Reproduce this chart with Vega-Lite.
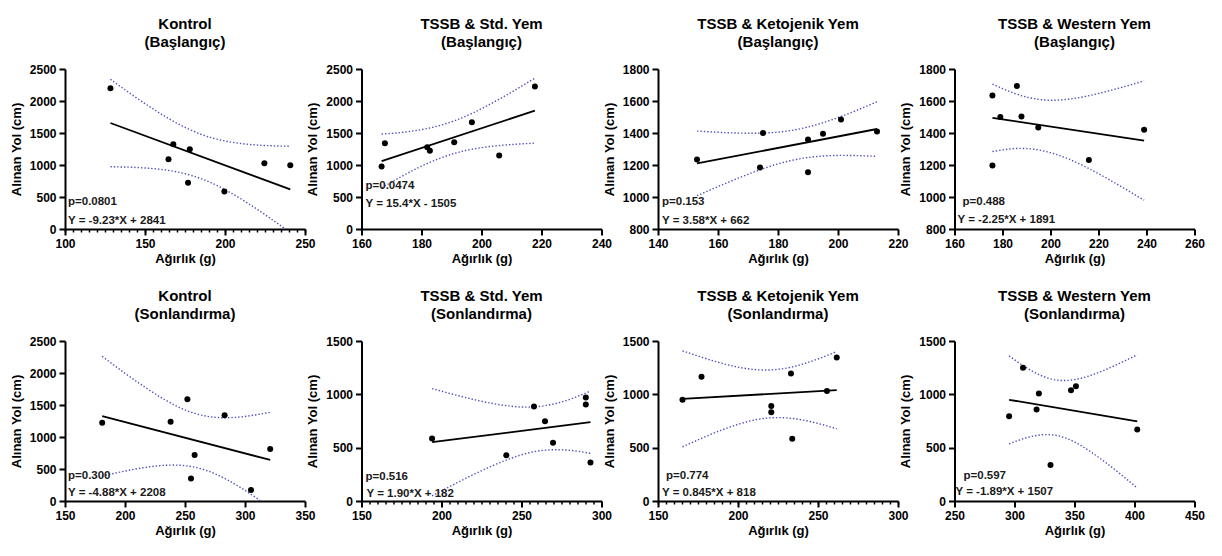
{
"$schema": "https://vega.github.io/schema/vega-lite/v6.json",
"background": "white",
"padding": {"left": 10, "top": 16, "right": 5, "bottom": 5},
"columns": 4,
"bounds": "flush",
"spacing": {"row": 112, "column": 56.5},
"config": {
 "view": {"stroke": null},
 "font": "Liberation Sans",
 "numberFormat": "d",
 "axis": {"domainColor": "#000", "domainWidth": 2, "tickColor": "#000", "tickWidth": 2, "tickSize": 6, "labelFont": "Liberation Sans", "labelFontSize": 12, "labelFontWeight": "bold", "labelColor": "#000", "labelPadding": 3, "labelFlush": false, "labelOverlap": false, "titleFont": "Liberation Sans", "titleFontSize": 13, "titleFontWeight": "bold", "titleColor": "#000", "grid": false},
 "axisX": {"titlePadding": 3},
 "axisY": {"titlePadding": 6},
 "title": {"font": "Liberation Sans", "fontSize": 15, "fontWeight": "bold", "color": "#000", "lineHeight": 18.5, "offset": 13, "anchor": "middle"},
 "text": {"align": "left", "baseline": "middle", "fontSize": 11.5, "fontWeight": "bold", "color": "#1a1a1a"}
},
"datasets": {
 "pts": [
  {"g":1,"x":128.4,"y":2199},{"g":1,"x":164.7,"y":1091},{"g":1,"x":167.7,"y":1325},{"g":1,"x":178,"y":1247},{"g":1,"x":176.9,"y":722},{"g":1,"x":199.6,"y":587},{"g":1,"x":224.6,"y":1029},{"g":1,"x":240.8,"y":998},
  {"g":2,"x":166.7,"y":977},{"g":2,"x":167.8,"y":1340},{"g":2,"x":181.9,"y":1279},{"g":2,"x":182.8,"y":1221},{"g":2,"x":190.9,"y":1357},{"g":2,"x":196.8,"y":1668},{"g":2,"x":205.9,"y":1149},{"g":2,"x":217.8,"y":2225},
  {"g":3,"x":153,"y":1235},{"g":3,"x":174,"y":1185},{"g":3,"x":175,"y":1400},{"g":3,"x":190,"y":1360},{"g":3,"x":190,"y":1155},{"g":3,"x":195,"y":1395},{"g":3,"x":201,"y":1485},{"g":3,"x":213,"y":1410},
  {"g":4,"x":175.8,"y":1634},{"g":4,"x":175.8,"y":1197},{"g":4,"x":179.1,"y":1500},{"g":4,"x":186,"y":1694},{"g":4,"x":187.9,"y":1503},{"g":4,"x":194.9,"y":1434},{"g":4,"x":216,"y":1232},{"g":4,"x":239,"y":1420},
  {"g":5,"x":181,"y":1221},{"g":5,"x":238,"y":1237},{"g":5,"x":252,"y":1590},{"g":5,"x":258,"y":717},{"g":5,"x":255,"y":353},{"g":5,"x":283,"y":1341},{"g":5,"x":305,"y":172},{"g":5,"x":321,"y":811},
  {"g":6,"x":194.1,"y":586},{"g":6,"x":240.5,"y":430},{"g":6,"x":257.8,"y":885},{"g":6,"x":264.7,"y":748},{"g":6,"x":269.7,"y":545},{"g":6,"x":290.2,"y":970},{"g":6,"x":290.2,"y":904},{"g":6,"x":293.1,"y":362},
  {"g":7,"x":165.3,"y":950},{"g":7,"x":177.2,"y":1165},{"g":7,"x":220.8,"y":891},{"g":7,"x":220.8,"y":832},{"g":7,"x":233.1,"y":1196},{"g":7,"x":233.9,"y":584},{"g":7,"x":255.6,"y":1031},{"g":7,"x":261.7,"y":1345},
  {"g":8,"x":295.5,"y":795},{"g":8,"x":307.1,"y":1250},{"g":8,"x":318.4,"y":857},{"g":8,"x":320.3,"y":1007},{"g":8,"x":330,"y":337},{"g":8,"x":347.1,"y":1038},{"g":8,"x":351.2,"y":1076},{"g":8,"x":402.3,"y":670}
 ],
 "fit": [
  {"g":1,"x":128.4,"y":1656},{"g":1,"x":240.8,"y":618},
  {"g":2,"x":166.7,"y":1062},{"g":2,"x":217.8,"y":1849},
  {"g":3,"x":153,"y":1210},{"g":3,"x":213,"y":1425},
  {"g":4,"x":175.8,"y":1495},{"g":4,"x":239,"y":1353},
  {"g":5,"x":181,"y":1325},{"g":5,"x":321,"y":642},
  {"g":6,"x":194.1,"y":551},{"g":6,"x":293.1,"y":739},
  {"g":7,"x":165.3,"y":958},{"g":7,"x":261.7,"y":1039},
  {"g":8,"x":295.5,"y":949},{"g":8,"x":402.3,"y":747}
 ],
 "band": [
  {"g":1,"k":"hi","x":128.4,"y":2339},{"g":1,"k":"hi","x":142,"y":2096},{"g":1,"k":"hi","x":156,"y":1861},{"g":1,"k":"hi","x":170,"y":1652},{"g":1,"k":"hi","x":185,"y":1480},{"g":1,"k":"hi","x":199,"y":1380},{"g":1,"k":"hi","x":213,"y":1327},{"g":1,"k":"hi","x":227,"y":1302},{"g":1,"k":"hi","x":240.8,"y":1292},
  {"g":1,"k":"lo","x":128.4,"y":973},{"g":1,"k":"lo","x":142,"y":964},{"g":1,"k":"lo","x":156,"y":941},{"g":1,"k":"lo","x":170,"y":892},{"g":1,"k":"lo","x":185,"y":787},{"g":1,"k":"lo","x":199,"y":628},{"g":1,"k":"lo","x":213,"y":423},{"g":1,"k":"lo","x":227,"y":190},{"g":1,"k":"lo","x":240.8,"y":-56},
  {"g":2,"k":"hi","x":166.7,"y":1482},{"g":2,"k":"hi","x":173,"y":1507},{"g":2,"k":"hi","x":179,"y":1545},{"g":2,"k":"hi","x":185,"y":1603},{"g":2,"k":"hi","x":191,"y":1691},{"g":2,"k":"hi","x":197,"y":1810},{"g":2,"k":"hi","x":204,"y":1979},{"g":2,"k":"hi","x":211,"y":2165},{"g":2,"k":"hi","x":217.8,"y":2356},
  {"g":2,"k":"lo","x":166.7,"y":642},{"g":2,"k":"lo","x":173,"y":811},{"g":2,"k":"lo","x":179,"y":959},{"g":2,"k":"lo","x":185,"y":1085},{"g":2,"k":"lo","x":191,"y":1181},{"g":2,"k":"lo","x":197,"y":1248},{"g":2,"k":"lo","x":204,"y":1295},{"g":2,"k":"lo","x":211,"y":1323},{"g":2,"k":"lo","x":217.8,"y":1342},
  {"g":3,"k":"hi","x":153,"y":1412},{"g":3,"k":"hi","x":160.5,"y":1404},{"g":3,"k":"hi","x":168,"y":1399},{"g":3,"k":"hi","x":175.5,"y":1400},{"g":3,"k":"hi","x":183,"y":1412},{"g":3,"k":"hi","x":190.5,"y":1440},{"g":3,"k":"hi","x":198,"y":1483},{"g":3,"k":"hi","x":205.5,"y":1536},{"g":3,"k":"hi","x":213,"y":1595},
  {"g":3,"k":"lo","x":153,"y":1008},{"g":3,"k":"lo","x":160.5,"y":1069},{"g":3,"k":"lo","x":168,"y":1127},{"g":3,"k":"lo","x":175.5,"y":1180},{"g":3,"k":"lo","x":183,"y":1222},{"g":3,"k":"lo","x":190.5,"y":1248},{"g":3,"k":"lo","x":198,"y":1259},{"g":3,"k":"lo","x":205.5,"y":1259},{"g":3,"k":"lo","x":213,"y":1254},
  {"g":4,"k":"hi","x":175.8,"y":1706},{"g":4,"k":"hi","x":183.7,"y":1655},{"g":4,"k":"hi","x":191.6,"y":1619},{"g":4,"k":"hi","x":199.5,"y":1605},{"g":4,"k":"hi","x":207.4,"y":1611},{"g":4,"k":"hi","x":215.3,"y":1631},{"g":4,"k":"hi","x":223.2,"y":1659},{"g":4,"k":"hi","x":231.1,"y":1691},{"g":4,"k":"hi","x":239,"y":1726},
  {"g":4,"k":"lo","x":175.8,"y":1284},{"g":4,"k":"lo","x":183.7,"y":1301},{"g":4,"k":"lo","x":191.6,"y":1301},{"g":4,"k":"lo","x":199.5,"y":1279},{"g":4,"k":"lo","x":207.4,"y":1238},{"g":4,"k":"lo","x":215.3,"y":1183},{"g":4,"k":"lo","x":223.2,"y":1119},{"g":4,"k":"lo","x":231.1,"y":1051},{"g":4,"k":"lo","x":239,"y":980},
  {"g":5,"k":"hi","x":181,"y":2260},{"g":5,"k":"hi","x":198.5,"y":2016},{"g":5,"k":"hi","x":216,"y":1786},{"g":5,"k":"hi","x":233.5,"y":1579},{"g":5,"k":"hi","x":251,"y":1416},{"g":5,"k":"hi","x":268.5,"y":1323},{"g":5,"k":"hi","x":286,"y":1301},{"g":5,"k":"hi","x":303.5,"y":1330},{"g":5,"k":"hi","x":321,"y":1386},
  {"g":5,"k":"lo","x":181,"y":390},{"g":5,"k":"lo","x":198.5,"y":462},{"g":5,"k":"lo","x":216,"y":522},{"g":5,"k":"lo","x":233.5,"y":558},{"g":5,"k":"lo","x":251,"y":550},{"g":5,"k":"lo","x":268.5,"y":473},{"g":5,"k":"lo","x":286,"y":323},{"g":5,"k":"lo","x":303.5,"y":124},{"g":5,"k":"lo","x":321,"y":-103},
  {"g":6,"k":"hi","x":194.1,"y":1054},{"g":6,"k":"hi","x":206.5,"y":1003},{"g":6,"k":"hi","x":218.9,"y":956},{"g":6,"k":"hi","x":231.3,"y":916},{"g":6,"k":"hi","x":243.7,"y":888},{"g":6,"k":"hi","x":256.1,"y":881},{"g":6,"k":"hi","x":268.5,"y":904},{"g":6,"k":"hi","x":280.9,"y":957},{"g":6,"k":"hi","x":293.1,"y":1031},
  {"g":6,"k":"lo","x":194.1,"y":48},{"g":6,"k":"lo","x":206.5,"y":146},{"g":6,"k":"lo","x":218.9,"y":240},{"g":6,"k":"lo","x":231.3,"y":327},{"g":6,"k":"lo","x":243.7,"y":402},{"g":6,"k":"lo","x":256.1,"y":457},{"g":6,"k":"lo","x":268.5,"y":480},{"g":6,"k":"lo","x":280.9,"y":474},{"g":6,"k":"lo","x":293.1,"y":447},
  {"g":7,"k":"hi","x":165.3,"y":1408},{"g":7,"k":"hi","x":177.35,"y":1348},{"g":7,"k":"hi","x":189.4,"y":1293},{"g":7,"k":"hi","x":201.45,"y":1251},{"g":7,"k":"hi","x":213.5,"y":1229},{"g":7,"k":"hi","x":225.55,"y":1235},{"g":7,"k":"hi","x":237.6,"y":1271},{"g":7,"k":"hi","x":249.65,"y":1330},{"g":7,"k":"hi","x":261.7,"y":1401},
  {"g":7,"k":"lo","x":165.3,"y":508},{"g":7,"k":"lo","x":177.35,"y":588},{"g":7,"k":"lo","x":189.4,"y":663},{"g":7,"k":"lo","x":201.45,"y":725},{"g":7,"k":"lo","x":213.5,"y":768},{"g":7,"k":"lo","x":225.55,"y":782},{"g":7,"k":"lo","x":237.6,"y":766},{"g":7,"k":"lo","x":249.65,"y":728},{"g":7,"k":"lo","x":261.7,"y":677},
  {"g":8,"k":"hi","x":295.5,"y":1361},{"g":8,"k":"hi","x":308.85,"y":1257},{"g":8,"k":"hi","x":322.2,"y":1176},{"g":8,"k":"hi","x":335.55,"y":1133},{"g":8,"k":"hi","x":348.9,"y":1136},{"g":8,"k":"hi","x":362.25,"y":1173},{"g":8,"k":"hi","x":375.6,"y":1230},{"g":8,"k":"hi","x":388.95,"y":1298},{"g":8,"k":"hi","x":402.3,"y":1372},
  {"g":8,"k":"lo","x":295.5,"y":536},{"g":8,"k":"lo","x":308.85,"y":589},{"g":8,"k":"lo","x":322.2,"y":620},{"g":8,"k":"lo","x":335.55,"y":613},{"g":8,"k":"lo","x":348.9,"y":560},{"g":8,"k":"lo","x":362.25,"y":471},{"g":8,"k":"lo","x":375.6,"y":364},{"g":8,"k":"lo","x":388.95,"y":246},{"g":8,"k":"lo","x":402.3,"y":122}
 ],
 "ann": [
  {"g":1,"p":"p=0.0801","eq":"Y = -9.23*X + 2841"},
  {"g":2,"p":"p=0.0474","eq":"Y = 15.4*X - 1505"},
  {"g":3,"p":"p=0.153","eq":"Y = 3.58*X + 662"},
  {"g":4,"p":"p=0.488","eq":"Y = -2.25*X + 1891"},
  {"g":5,"p":"p=0.300","eq":"Y = -4.88*X + 2208"},
  {"g":6,"p":"p=0.516","eq":"Y = 1.90*X + 182"},
  {"g":7,"p":"p=0.774","eq":"Y = 0.845*X + 818"},
  {"g":8,"p":"p=0.597","eq":"Y = -1.89*X + 1507"}
 ]
},
"concat": [
 {
  "width": 240, "height": 160,
  "title": {"text": ["Kontrol", "(Başlangıç)"]},
  "resolve": {"axis": {"x": "independent"}},
  "encoding": {
   "x": {"field": "x", "type": "quantitative", "scale": {"domain": [100, 250], "nice": false, "zero": false}, "axis": null},
   "y": {"field": "y", "type": "quantitative", "scale": {"domain": [0, 2500], "nice": false, "zero": false}, "axis": {"values": [0, 500, 1000, 1500, 2000, 2500], "title": "Alınan Yol (cm)"}}
  },
  "layer": [
   {"data": {"name": "band"}, "transform": [{"filter": "datum.g == 1"}], "mark": {"type": "line", "clip": true, "interpolate": "natural", "color": "#5050c0", "strokeWidth": 1.4, "strokeDash": [1.4, 2]},
    "encoding": {"detail": {"field": "k"}, "x": {"field": "x", "type": "quantitative", "scale": {"domain": [100, 250], "nice": false, "zero": false}, "axis": {"orient": "bottom", "values": [100,105,110,115,120,125,130,135,140,145,150,155,160,165,170,175,180,185,190,195,200,205,210,215,220,225,230,235,240,245,250], "tickSize": 3, "tickWidth": 1.5, "labels": false, "domain": false, "title": null}}}},
   {"data": {"name": "fit"}, "transform": [{"filter": "datum.g == 1"}], "mark": {"type": "line", "color": "#000", "strokeWidth": 1.8},
    "encoding": {"x": {"field": "x", "type": "quantitative", "scale": {"domain": [100, 250], "nice": false, "zero": false}, "axis": {"orient": "bottom", "values": [100, 150, 200, 250], "title": "Ağırlık (g)"}}}},
   {"data": {"name": "pts"}, "transform": [{"filter": "datum.g == 1"}], "mark": {"type": "circle", "size": 36, "color": "#000", "opacity": 1}},
   {"data": {"name": "ann"}, "transform": [{"filter": "datum.g == 1"}], "mark": {"type": "text", "dx": 3, "dy": -27},
    "encoding": {"x": {"value": 0}, "y": {"value": "height"}, "text": {"field": "p"}}},
   {"data": {"name": "ann"}, "transform": [{"filter": "datum.g == 1"}], "mark": {"type": "text", "dx": 3, "dy": -8},
    "encoding": {"x": {"value": 0}, "y": {"value": "height"}, "text": {"field": "eq"}}}
  ]
 },
 {
  "width": 240, "height": 160,
  "title": {"text": ["TSSB & Std. Yem", "(Başlangıç)"]},
  "encoding": {
   "x": {"field": "x", "type": "quantitative", "scale": {"domain": [160, 240], "nice": false, "zero": false}, "axis": {"values": [160, 180, 200, 220, 240], "title": "Ağırlık (g)"}},
   "y": {"field": "y", "type": "quantitative", "scale": {"domain": [0, 2500], "nice": false, "zero": false}, "axis": {"values": [0, 500, 1000, 1500, 2000, 2500], "title": "Alınan Yol (cm)"}}
  },
  "layer": [
   {"data": {"name": "band"}, "transform": [{"filter": "datum.g == 2"}], "mark": {"type": "line", "clip": true, "interpolate": "natural", "color": "#5050c0", "strokeWidth": 1.4, "strokeDash": [1.4, 2]}, "encoding": {"detail": {"field": "k"}}},
   {"data": {"name": "fit"}, "transform": [{"filter": "datum.g == 2"}], "mark": {"type": "line", "color": "#000", "strokeWidth": 1.8}},
   {"data": {"name": "pts"}, "transform": [{"filter": "datum.g == 2"}], "mark": {"type": "circle", "size": 36, "color": "#000", "opacity": 1}},
   {"data": {"name": "ann"}, "transform": [{"filter": "datum.g == 2"}], "mark": {"type": "text", "dx": 4, "dy": -43},
    "encoding": {"x": {"value": 0}, "y": {"value": "height"}, "text": {"field": "p"}}},
   {"data": {"name": "ann"}, "transform": [{"filter": "datum.g == 2"}], "mark": {"type": "text", "dx": 4, "dy": -25},
    "encoding": {"x": {"value": 0}, "y": {"value": "height"}, "text": {"field": "eq"}}}
  ]
 },
 {
  "width": 240, "height": 160,
  "title": {"text": ["TSSB & Ketojenik Yem", "(Başlangıç)"]},
  "encoding": {
   "x": {"field": "x", "type": "quantitative", "scale": {"domain": [140, 220], "nice": false, "zero": false}, "axis": {"values": [140, 160, 180, 200, 220], "title": "Ağırlık (g)"}},
   "y": {"field": "y", "type": "quantitative", "scale": {"domain": [800, 1800], "nice": false, "zero": false}, "axis": {"values": [800, 1000, 1200, 1400, 1600, 1800], "title": "Alınan Yol (cm)"}}
  },
  "layer": [
   {"data": {"name": "band"}, "transform": [{"filter": "datum.g == 3"}], "mark": {"type": "line", "clip": true, "interpolate": "natural", "color": "#5050c0", "strokeWidth": 1.4, "strokeDash": [1.4, 2]}, "encoding": {"detail": {"field": "k"}}},
   {"data": {"name": "fit"}, "transform": [{"filter": "datum.g == 3"}], "mark": {"type": "line", "color": "#000", "strokeWidth": 1.8}},
   {"data": {"name": "pts"}, "transform": [{"filter": "datum.g == 3"}], "mark": {"type": "circle", "size": 36, "color": "#000", "opacity": 1}},
   {"data": {"name": "ann"}, "transform": [{"filter": "datum.g == 3"}], "mark": {"type": "text", "dx": 4, "dy": -27},
    "encoding": {"x": {"value": 0}, "y": {"value": "height"}, "text": {"field": "p"}}},
   {"data": {"name": "ann"}, "transform": [{"filter": "datum.g == 3"}], "mark": {"type": "text", "dx": 4, "dy": -8},
    "encoding": {"x": {"value": 0}, "y": {"value": "height"}, "text": {"field": "eq"}}}
  ]
 },
 {
  "width": 240, "height": 160,
  "title": {"text": ["TSSB & Western Yem", "(Başlangıç)"]},
  "encoding": {
   "x": {"field": "x", "type": "quantitative", "scale": {"domain": [160, 260], "nice": false, "zero": false}, "axis": {"values": [160, 180, 200, 220, 240, 260], "title": "Ağırlık (g)"}},
   "y": {"field": "y", "type": "quantitative", "scale": {"domain": [800, 1800], "nice": false, "zero": false}, "axis": {"values": [800, 1000, 1200, 1400, 1600, 1800], "title": "Alınan Yol (cm)"}}
  },
  "layer": [
   {"data": {"name": "band"}, "transform": [{"filter": "datum.g == 4"}], "mark": {"type": "line", "clip": true, "interpolate": "natural", "color": "#5050c0", "strokeWidth": 1.4, "strokeDash": [1.4, 2]}, "encoding": {"detail": {"field": "k"}}},
   {"data": {"name": "fit"}, "transform": [{"filter": "datum.g == 4"}], "mark": {"type": "line", "color": "#000", "strokeWidth": 1.8}},
   {"data": {"name": "pts"}, "transform": [{"filter": "datum.g == 4"}], "mark": {"type": "circle", "size": 36, "color": "#000", "opacity": 1}},
   {"data": {"name": "ann"}, "transform": [{"filter": "datum.g == 4"}], "mark": {"type": "text", "dx": 8, "dy": -27},
    "encoding": {"x": {"value": 0}, "y": {"value": "height"}, "text": {"field": "p"}}},
   {"data": {"name": "ann"}, "transform": [{"filter": "datum.g == 4"}], "mark": {"type": "text", "dx": 3, "dy": -9},
    "encoding": {"x": {"value": 0}, "y": {"value": "height"}, "text": {"field": "eq"}}}
  ]
 },
 {
  "width": 240, "height": 160,
  "title": {"text": ["Kontrol", "(Sonlandırma)"]},
  "encoding": {
   "x": {"field": "x", "type": "quantitative", "scale": {"domain": [150, 350], "nice": false, "zero": false}, "axis": {"values": [150, 200, 250, 300, 350], "title": "Ağırlık (g)"}},
   "y": {"field": "y", "type": "quantitative", "scale": {"domain": [0, 2500], "nice": false, "zero": false}, "axis": {"values": [0, 500, 1000, 1500, 2000, 2500], "title": "Alınan Yol (cm)"}}
  },
  "layer": [
   {"data": {"name": "band"}, "transform": [{"filter": "datum.g == 5"}], "mark": {"type": "line", "clip": true, "interpolate": "natural", "color": "#5050c0", "strokeWidth": 1.4, "strokeDash": [1.4, 2]}, "encoding": {"detail": {"field": "k"}}},
   {"data": {"name": "fit"}, "transform": [{"filter": "datum.g == 5"}], "mark": {"type": "line", "color": "#000", "strokeWidth": 1.8}},
   {"data": {"name": "pts"}, "transform": [{"filter": "datum.g == 5"}], "mark": {"type": "circle", "size": 36, "color": "#000", "opacity": 1}},
   {"data": {"name": "ann"}, "transform": [{"filter": "datum.g == 5"}], "mark": {"type": "text", "dx": 3, "dy": -25},
    "encoding": {"x": {"value": 0}, "y": {"value": "height"}, "text": {"field": "p"}}},
   {"data": {"name": "ann"}, "transform": [{"filter": "datum.g == 5"}], "mark": {"type": "text", "dx": 3, "dy": -8},
    "encoding": {"x": {"value": 0}, "y": {"value": "height"}, "text": {"field": "eq"}}}
  ]
 },
 {
  "width": 240, "height": 160,
  "title": {"text": ["TSSB & Std. Yem", "(Sonlandırma)"]},
  "resolve": {"axis": {"x": "independent"}},
  "encoding": {
   "x": {"field": "x", "type": "quantitative", "scale": {"domain": [150, 300], "nice": false, "zero": false}, "axis": null},
   "y": {"field": "y", "type": "quantitative", "scale": {"domain": [0, 1500], "nice": false, "zero": false}, "axis": {"values": [0, 500, 1000, 1500], "title": "Alınan Yol (cm)"}}
  },
  "layer": [
   {"data": {"name": "band"}, "transform": [{"filter": "datum.g == 6"}], "mark": {"type": "line", "clip": true, "interpolate": "natural", "color": "#5050c0", "strokeWidth": 1.4, "strokeDash": [1.4, 2]},
    "encoding": {"detail": {"field": "k"}, "x": {"field": "x", "type": "quantitative", "scale": {"domain": [150, 300], "nice": false, "zero": false}, "axis": {"orient": "bottom", "values": [150,155,160,165,170,175,180,185,190,195,200,205,210,215,220,225,230,235,240,245,250,255,260,265,270,275,280,285,290,295,300], "tickSize": 3, "tickWidth": 1.5, "labels": false, "domain": false, "title": null}}}},
   {"data": {"name": "fit"}, "transform": [{"filter": "datum.g == 6"}], "mark": {"type": "line", "color": "#000", "strokeWidth": 1.8},
    "encoding": {"x": {"field": "x", "type": "quantitative", "scale": {"domain": [150, 300], "nice": false, "zero": false}, "axis": {"orient": "bottom", "values": [150, 200, 250, 300], "title": "Ağırlık (g)"}}}},
   {"data": {"name": "pts"}, "transform": [{"filter": "datum.g == 6"}], "mark": {"type": "circle", "size": 36, "color": "#000", "opacity": 1}},
   {"data": {"name": "ann"}, "transform": [{"filter": "datum.g == 6"}], "mark": {"type": "text", "dx": 4, "dy": -24},
    "encoding": {"x": {"value": 0}, "y": {"value": "height"}, "text": {"field": "p"}}},
   {"data": {"name": "ann"}, "transform": [{"filter": "datum.g == 6"}], "mark": {"type": "text", "dx": 5, "dy": -7},
    "encoding": {"x": {"value": 0}, "y": {"value": "height"}, "text": {"field": "eq"}}}
  ]
 },
 {
  "width": 240, "height": 160,
  "title": {"text": ["TSSB & Ketojenik Yem", "(Sonlandırma)"]},
  "resolve": {"axis": {"x": "independent"}},
  "encoding": {
   "x": {"field": "x", "type": "quantitative", "scale": {"domain": [150, 300], "nice": false, "zero": false}, "axis": null},
   "y": {"field": "y", "type": "quantitative", "scale": {"domain": [0, 1500], "nice": false, "zero": false}, "axis": {"values": [0, 500, 1000, 1500], "title": "Alınan Yol (cm)"}}
  },
  "layer": [
   {"data": {"name": "band"}, "transform": [{"filter": "datum.g == 7"}], "mark": {"type": "line", "clip": true, "interpolate": "natural", "color": "#5050c0", "strokeWidth": 1.4, "strokeDash": [1.4, 2]},
    "encoding": {"detail": {"field": "k"}, "x": {"field": "x", "type": "quantitative", "scale": {"domain": [150, 300], "nice": false, "zero": false}, "axis": {"orient": "bottom", "values": [150,155,160,165,170,175,180,185,190,195,200,205,210,215,220,225,230,235,240,245,250,255,260,265,270,275,280,285,290,295,300], "tickSize": 3, "tickWidth": 1.5, "labels": false, "domain": false, "title": null}}}},
   {"data": {"name": "fit"}, "transform": [{"filter": "datum.g == 7"}], "mark": {"type": "line", "color": "#000", "strokeWidth": 1.8},
    "encoding": {"x": {"field": "x", "type": "quantitative", "scale": {"domain": [150, 300], "nice": false, "zero": false}, "axis": {"orient": "bottom", "values": [150, 200, 250, 300], "title": "Ağırlık (g)"}}}},
   {"data": {"name": "pts"}, "transform": [{"filter": "datum.g == 7"}], "mark": {"type": "circle", "size": 36, "color": "#000", "opacity": 1}},
   {"data": {"name": "ann"}, "transform": [{"filter": "datum.g == 7"}], "mark": {"type": "text", "dx": 8, "dy": -25},
    "encoding": {"x": {"value": 0}, "y": {"value": "height"}, "text": {"field": "p"}}},
   {"data": {"name": "ann"}, "transform": [{"filter": "datum.g == 7"}], "mark": {"type": "text", "dx": 4, "dy": -8},
    "encoding": {"x": {"value": 0}, "y": {"value": "height"}, "text": {"field": "eq"}}}
  ]
 },
 {
  "width": 240, "height": 160,
  "title": {"text": ["TSSB & Western Yem", "(Sonlandırma)"]},
  "encoding": {
   "x": {"field": "x", "type": "quantitative", "scale": {"domain": [250, 450], "nice": false, "zero": false}, "axis": {"values": [250, 300, 350, 400, 450], "title": "Ağırlık (g)"}},
   "y": {"field": "y", "type": "quantitative", "scale": {"domain": [0, 1500], "nice": false, "zero": false}, "axis": {"values": [0, 500, 1000, 1500], "title": "Alınan Yol (cm)"}}
  },
  "layer": [
   {"data": {"name": "band"}, "transform": [{"filter": "datum.g == 8"}], "mark": {"type": "line", "clip": true, "interpolate": "natural", "color": "#5050c0", "strokeWidth": 1.4, "strokeDash": [1.4, 2]}, "encoding": {"detail": {"field": "k"}}},
   {"data": {"name": "fit"}, "transform": [{"filter": "datum.g == 8"}], "mark": {"type": "line", "color": "#000", "strokeWidth": 1.8}},
   {"data": {"name": "pts"}, "transform": [{"filter": "datum.g == 8"}], "mark": {"type": "circle", "size": 36, "color": "#000", "opacity": 1}},
   {"data": {"name": "ann"}, "transform": [{"filter": "datum.g == 8"}], "mark": {"type": "text", "dx": 9, "dy": -25},
    "encoding": {"x": {"value": 0}, "y": {"value": "height"}, "text": {"field": "p"}}},
   {"data": {"name": "ann"}, "transform": [{"filter": "datum.g == 8"}], "mark": {"type": "text", "dx": 1, "dy": -9},
    "encoding": {"x": {"value": 0}, "y": {"value": "height"}, "text": {"field": "eq"}}}
  ]
 }
]
}
